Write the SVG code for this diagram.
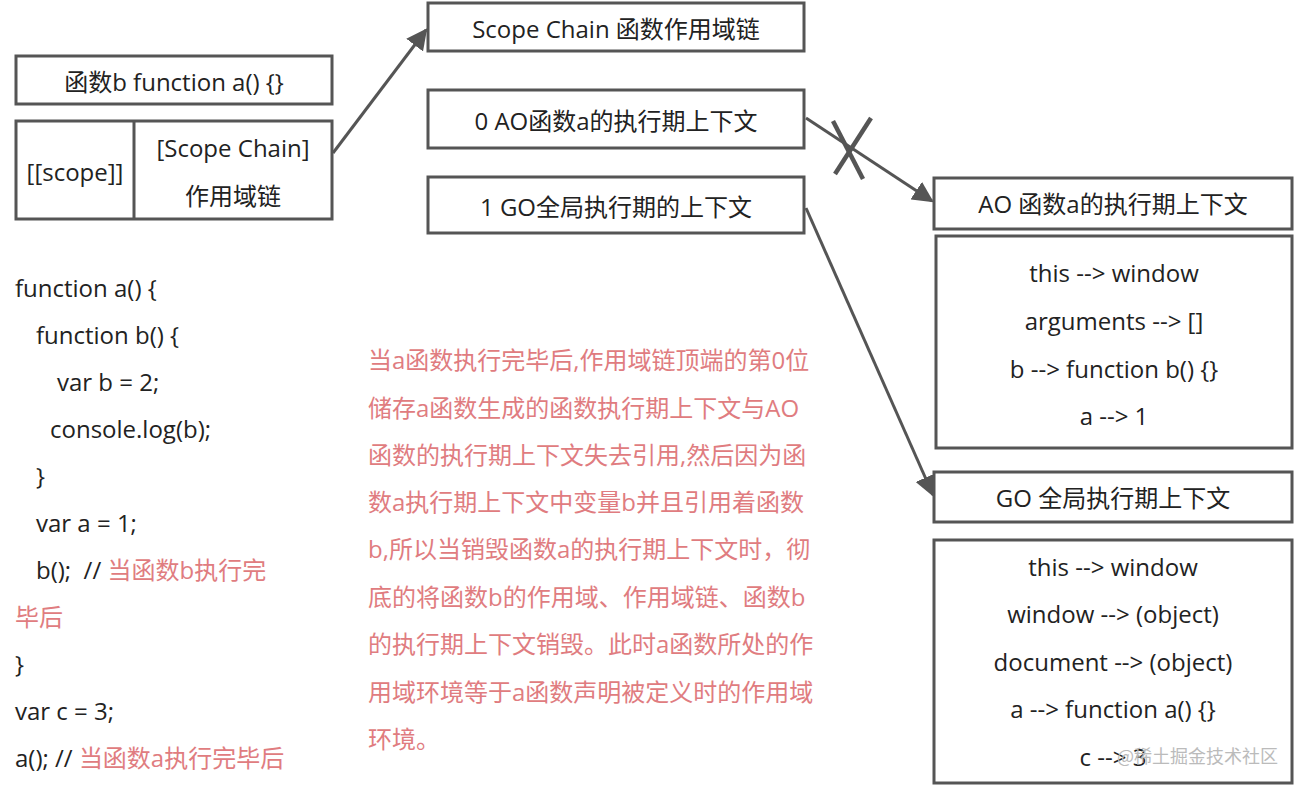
<svg xmlns="http://www.w3.org/2000/svg" width="1297" height="789" viewBox="0 0 1297 789">
<style>
text{font-family:"Open Sans","Noto Sans CJK SC",sans-serif;font-size:24px;fill:#222}
.c{text-anchor:middle}
.p{fill:#e07c80}
.box{fill:#fff;stroke:#555;stroke-width:3}
.ln{stroke:#555;stroke-width:3;fill:none}
.x{stroke:#555;stroke-width:4.5;fill:none}
.wm{font-family:"Noto Sans CJK SC",sans-serif;font-size:18px;fill:#bbb}
</style>
<defs>
<marker id="ah" viewBox="0 0 10 10" refX="9" refY="5" markerWidth="7" markerHeight="7" markerUnits="strokeWidth" orient="auto">
<path d="M0,0 L10,5 L0,10 z" fill="#555"/>
</marker>
</defs>
<rect width="1297" height="789" fill="#fff"/>
<g id="connectors">
<line class="ln" x1="333" y1="153" x2="426" y2="30" marker-end="url(#ah)"/>
<line class="ln" x1="806" y1="118" x2="932" y2="201" marker-end="url(#ah)"/>
<line class="x" x1="871" y1="118" x2="835" y2="174"/>
<line class="x" x1="833" y1="121" x2="863" y2="179"/>
<line class="ln" x1="806" y1="208" x2="933" y2="495" marker-end="url(#ah)"/>
</g>
<g id="node-func-b">
<rect class="box" x="16" y="56" width="316" height="48"/>
<text class="c" x="174" y="91">函数b function a() {}</text>
</g>
<g id="node-scope">
<rect class="box" x="16" y="121" width="316" height="98"/>
<line class="ln" x1="134" y1="121" x2="134" y2="219"/>
<text class="c" x="75" y="181">[[scope]]</text>
<text class="c" x="233" y="157">[Scope Chain]</text>
<text class="c" x="233" y="205">作用域链</text>
</g>
<g id="node-scope-chain">
<rect class="box" x="428" y="3" width="376" height="48"/>
<text class="c" x="616" y="38">Scope Chain 函数作用域链</text>
</g>
<g id="node-ao-0">
<rect class="box" x="428" y="90" width="376" height="58"/>
<text class="c" x="616" y="130">0 AO函数a的执行期上下文</text>
</g>
<g id="node-go-1">
<rect class="box" x="428" y="177" width="376" height="56"/>
<text class="c" x="616" y="216">1 GO全局执行期的上下文</text>
</g>
<g id="node-ao-title">
<rect class="box" x="934" y="178" width="358" height="51"/>
<text class="c" x="1113" y="213">AO 函数a的执行期上下文</text>
</g>
<g id="node-ao-body">
<rect class="box" x="936" y="236" width="356" height="212"/>
<text class="c" x="1114" y="282">this --&gt; window</text>
<text class="c" x="1114" y="330">arguments --&gt; []</text>
<text class="c" x="1114" y="378">b --&gt; function b() {}</text>
<text class="c" x="1114" y="425">a --&gt; 1</text>
</g>
<g id="node-go-title">
<rect class="box" x="934" y="472" width="358" height="50"/>
<text class="c" x="1113" y="507">GO 全局执行期上下文</text>
</g>
<g id="node-go-body">
<rect class="box" x="934" y="540" width="358" height="243"/>
<text class="c" x="1113" y="576">this --&gt; window</text>
<text class="c" x="1113" y="623">window --&gt; (object)</text>
<text class="c" x="1113" y="671">document --&gt; (object)</text>
<text class="c" x="1113" y="718">a --&gt; function a() {}</text>
<text class="c" x="1113" y="766">c --&gt; 3</text>
<text class="wm" x="1117" y="763">@稀土掘金技术社区</text>
</g>
<g id="code">
<text x="15" y="297">function a() {</text>
<text x="36" y="344">function b() {</text>
<text x="57" y="391">var b = 2;</text>
<text x="50" y="438">console.log(b);</text>
<text x="36" y="485">}</text>
<text x="36" y="532">var a = 1;</text>
<text x="36" y="579" xml:space="preserve">b();  // <tspan class="p">当函数b执行完</tspan></text>
<text x="15" y="626" class="p">毕后</text>
<text x="15" y="673">}</text>
<text x="15" y="720">var c = 3;</text>
<text x="15" y="767">a(); // <tspan class="p">当函数a执行完毕后</tspan></text>
</g>
<g id="note">
<text class="p" x="368" y="369">当a函数执行完毕后,作用域链顶端的第0位</text>
<text class="p" x="368" y="417">储存a函数生成的函数执行期上下文与AO</text>
<text class="p" x="368" y="464">函数的执行期上下文失去引用,然后因为函</text>
<text class="p" x="368" y="511">数a执行期上下文中变量b并且引用着函数</text>
<text class="p" x="368" y="558">b,所以当销毁函数a的执行期上下文时，彻</text>
<text class="p" x="368" y="606">底的将函数b的作用域、作用域链、函数b</text>
<text class="p" x="368" y="653">的执行期上下文销毁。此时a函数所处的作</text>
<text class="p" x="368" y="701">用域环境等于a函数声明被定义时的作用域</text>
<text class="p" x="368" y="748">环境。</text>
</g>
</svg>
